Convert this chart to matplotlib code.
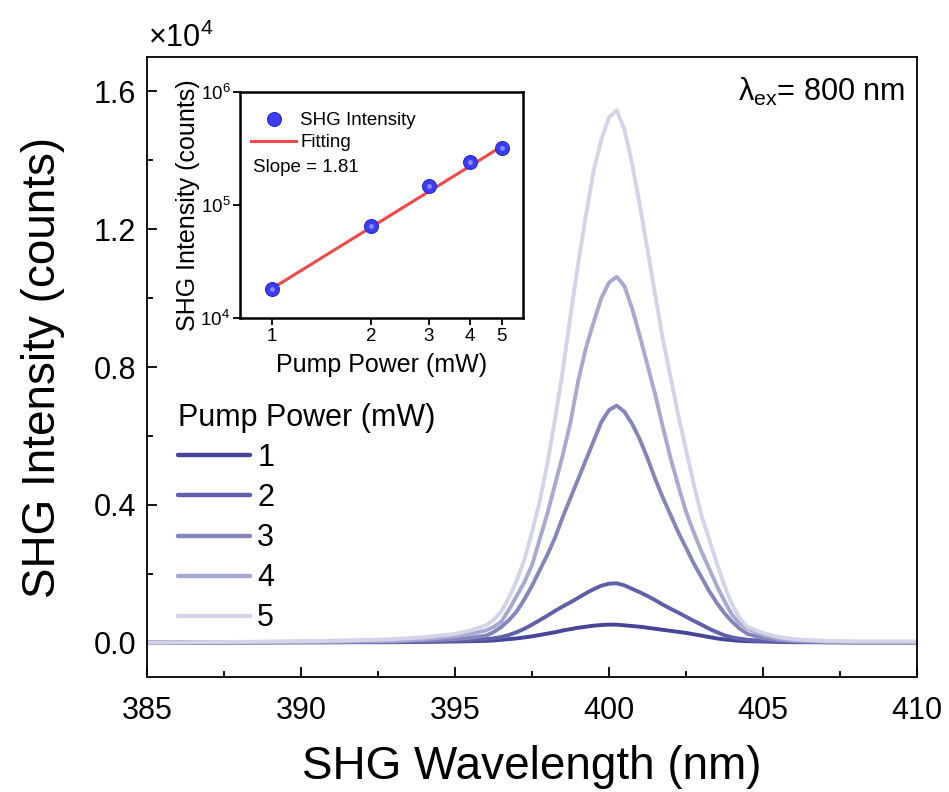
import matplotlib
matplotlib.use("Agg")
import matplotlib.pyplot as plt
from matplotlib.ticker import MultipleLocator, FixedLocator, NullLocator, LogLocator

plt.rcParams['font.family'] = ['Liberation Sans', 'DejaVu Sans']
plt.rcParams['mathtext.fontset'] = 'custom'
plt.rcParams['mathtext.rm'] = 'Liberation Sans'
plt.rcParams['mathtext.it'] = 'Liberation Sans:italic'
plt.rcParams['mathtext.bf'] = 'Liberation Sans:bold'

# SHG spectra, intensity in units of 1e4 counts
wavelength = [385, 388, 391, 393, 394, 395, 395.5,
              396, 396.25, 396.5, 396.75, 397, 397.25, 397.5, 397.75, 398, 398.25, 398.5, 398.75,
              399, 399.25, 399.5, 399.75, 400, 400.25, 400.5, 400.75, 401, 401.25, 401.5, 401.75,
              402, 402.25, 402.5, 402.75, 403, 403.25, 403.5, 403.75, 404, 404.25, 404.5,
              405, 405.5, 406, 407, 408, 410]
spec_1mw = [0, 0, 0.001, 0.001, 0.002, 0.003, 0.004,
            0.005, 0.006, 0.008, 0.010, 0.012, 0.015, 0.018, 0.022, 0.026, 0.030, 0.035, 0.039,
            0.043, 0.046, 0.049, 0.051, 0.052, 0.052, 0.050, 0.048, 0.046, 0.043, 0.040, 0.037,
            0.034, 0.031, 0.028, 0.024, 0.020, 0.016, 0.012, 0.009, 0.007, 0.005, 0.004,
            0.003, 0.002, 0.001, 0.001, 0, 0]
spec_2mw = [0, 0.001, 0.001, 0.002, 0.003, 0.005, 0.007,
            0.010, 0.012, 0.016, 0.022, 0.030, 0.040, 0.052, 0.065, 0.078, 0.092, 0.105, 0.117,
            0.130, 0.143, 0.155, 0.165, 0.171, 0.172, 0.166, 0.156, 0.146, 0.135, 0.123, 0.110,
            0.098, 0.087, 0.075, 0.063, 0.052, 0.040, 0.030, 0.021, 0.015, 0.011, 0.008,
            0.005, 0.003, 0.002, 0.001, 0.001, 0.001]
spec_3mw = [0, 0.001, 0.002, 0.003, 0.006, 0.010, 0.014,
            0.020, 0.030, 0.045, 0.065, 0.090, 0.125, 0.165, 0.210, 0.255, 0.305, 0.365, 0.420,
            0.475, 0.530, 0.585, 0.640, 0.675, 0.688, 0.670, 0.635, 0.590, 0.535, 0.475, 0.420,
            0.370, 0.320, 0.275, 0.230, 0.190, 0.150, 0.115, 0.085, 0.060, 0.040, 0.025,
            0.013, 0.007, 0.004, 0.002, 0.001, 0.001]
spec_4mw = [0, 0.001, 0.003, 0.005, 0.010, 0.018, 0.025,
            0.035, 0.045, 0.060, 0.095, 0.135, 0.175, 0.225, 0.300, 0.375, 0.460, 0.545, 0.640,
            0.760, 0.855, 0.930, 1.000, 1.045, 1.062, 1.035, 0.970, 0.890, 0.805, 0.720, 0.625,
            0.535, 0.455, 0.380, 0.320, 0.265, 0.215, 0.165, 0.120, 0.080, 0.055, 0.040,
            0.022, 0.011, 0.006, 0.003, 0.002, 0.002]
spec_5mw = [0, 0.002, 0.005, 0.010, 0.015, 0.025, 0.035,
            0.050, 0.065, 0.090, 0.130, 0.180, 0.240, 0.320, 0.410, 0.520, 0.650, 0.790, 0.950,
            1.100, 1.240, 1.370, 1.460, 1.525, 1.545, 1.490, 1.390, 1.270, 1.140, 1.010, 0.880,
            0.770, 0.660, 0.560, 0.460, 0.370, 0.300, 0.230, 0.165, 0.110, 0.070, 0.045,
            0.028, 0.016, 0.010, 0.005, 0.003, 0.003]
power_labels = ['1', '2', '3', '4', '5']
spec_colors = ['#45469a', '#5f60aa', '#8485bb', '#a8a9d0', '#d4d4e8']

# inset: integrated SHG intensity vs pump power
pump_power = [1, 2, 3, 4, 5]
shg_intensity = [1.8e4, 6.5e4, 1.48e5, 2.4e5, 3.2e5]
fit_power = [1, 5]
fit_intensity = [1.82e4, 3.3e5]
slope = 1.81

fig = plt.figure(figsize=(9.49, 7.92), dpi=100)
ax = fig.add_axes([0.1549, 0.1452, 0.8114, 0.7828])

spectra = [spec_1mw, spec_2mw, spec_3mw, spec_4mw, spec_5mw]
for spec, lab, col in zip(spectra, power_labels, spec_colors):
    ax.plot(wavelength, spec, color=col, lw=2.8, label=lab, solid_capstyle='round')

ax.set_xlim(385, 410)
ax.set_ylim(-0.1, 1.7)
ax.xaxis.set_major_locator(MultipleLocator(5))
ax.xaxis.set_minor_locator(MultipleLocator(2.5))
ax.yaxis.set_major_locator(FixedLocator([0.0, 0.4, 0.8, 1.2, 1.6]))
ax.yaxis.set_minor_locator(MultipleLocator(0.2))
ax.yaxis.set_major_formatter(plt.FuncFormatter(lambda v, p: f"{v:.1f}"))
ax.tick_params(which='both', direction='in', top=False, right=False, labelsize=22, width=1.3)
ax.tick_params(axis='x', which='major', length=7, pad=14)
ax.tick_params(axis='y', which='major', length=7, pad=8)
ax.tick_params(which='minor', length=4)
for sp in ax.spines.values():
    sp.set_linewidth(1.3)
ax.set_xlabel('SHG Wavelength (nm)', fontsize=33, labelpad=13)
ax.set_ylabel('SHG Intensity (counts)', fontsize=33, labelpad=20)

fig.text(148 / 949, 1 - 38 / 792, r'$\times$10$^4$', fontsize=22, va='center', ha='left')
ax.text(0.984, 0.944, 'λ$_{\\mathrm{ex}}$= 800 nm', transform=ax.transAxes,
        fontsize=22, ha='right', va='center')

leg = ax.legend(loc='upper left', bbox_to_anchor=(0.04, 0.442), frameon=False,
                title='Pump Power (mW)', fontsize=22, title_fontsize=22,
                handlelength=2.35, handletextpad=0.25, labelspacing=0.33,
                borderpad=0, borderaxespad=0, alignment='left')
for line in leg.get_lines():
    line.set_linewidth(3.2)

# inset
ins = fig.add_axes([0.2529, 0.5985, 0.2982, 0.2853])
ins.plot(fit_power, fit_intensity, color='#f24848', lw=2.2, label='Fitting', zorder=2)
ins.plot(pump_power, shg_intensity, 'o', color='#3c3cf2', ms=10, mec='#2a2ad0', mew=0.8,
         label='SHG Intensity', zorder=3)
ins.plot(pump_power, shg_intensity, 'o', color='#8a8af8', ms=3.5, mew=0, zorder=4)
ins.set_xscale('log')
ins.set_yscale('log')
ins.set_xlim(0.8, 5.8)
ins.set_ylim(1e4, 1e6)
ins.xaxis.set_major_locator(FixedLocator(pump_power))
ins.xaxis.set_major_formatter(plt.FuncFormatter(lambda v, p: f"{v:g}"))
ins.xaxis.set_minor_locator(NullLocator())
ins.yaxis.set_major_locator(LogLocator(base=10))
ins.yaxis.set_minor_locator(NullLocator())
ins.tick_params(which='both', direction='out', labelsize=13.5, width=1.3, length=5, pad=2)
for sp in ins.spines.values():
    sp.set_linewidth(1.8)
ins.set_xlabel('Pump Power (mW)', fontsize=18, labelpad=6)
ins.set_ylabel('SHG Intensity (counts)', fontsize=18, labelpad=0)

h, l = ins.get_legend_handles_labels()
ins.legend([h[1], h[0]], [l[1], l[0]], loc='upper left', bbox_to_anchor=(0.04, 0.91),
           frameon=False, fontsize=13.5, handlelength=2.4, handletextpad=0.2,
           labelspacing=0.25, borderpad=0, borderaxespad=0)
ins.text(0.046, 0.668, 'Slope = %.2f' % slope, transform=ins.transAxes, fontsize=13.5,
         va='center', ha='left')

fig.savefig('out.png', dpi=100)
